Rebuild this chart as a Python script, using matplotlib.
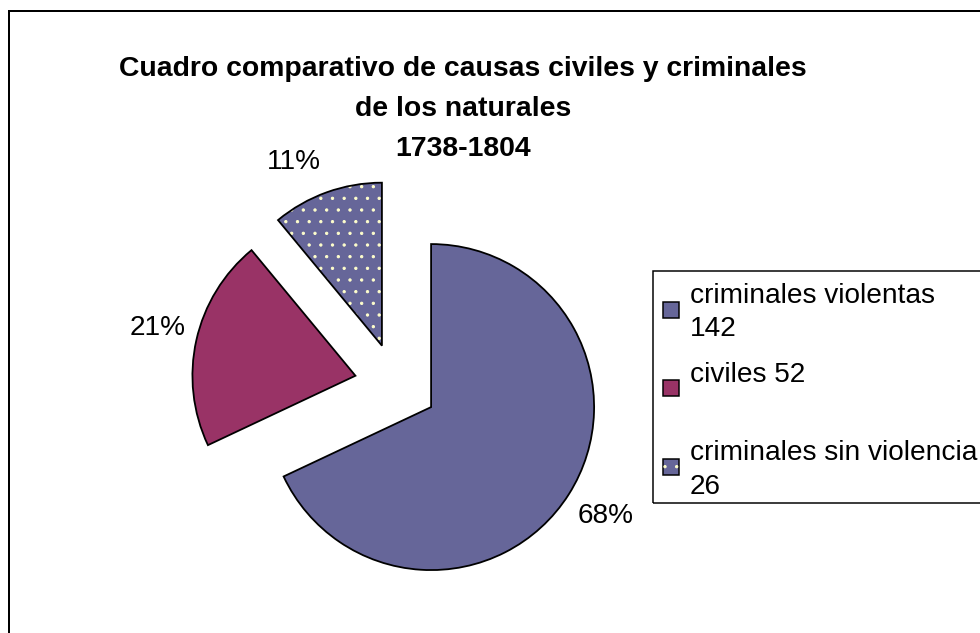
import numpy as np
import matplotlib
matplotlib.use("Agg")
import matplotlib.pyplot as plt
from matplotlib.patches import Rectangle

# ---- data ----
categories = ["criminales violentas", "civiles", "criminales sin violencia"]
counts = [142, 52, 26]
shares = [68, 21, 11]          # percentages as drawn in the pie
title_lines = ["Cuadro comparativo de causas civiles y criminales",
               "de los naturales", "1738-1804"]

# ---- style ----
DPI = 70
W, H = 980, 633
def pt(px):
    return px * 72.0 / DPI
def fx(px):
    return px / W
def fy(py):
    return 1 - py / H

colors = ["#666699", "#993366", "#666699"]
hatches = [None, None, "."]
FONT = "Liberation Sans"
FS = pt(28)

fig = plt.figure(figsize=(W / DPI, H / DPI), dpi=DPI)
fig.patch.set_facecolor("white")

# pie axes: 1 data unit = 163 px, centre at (396, 384.8) px
R = 163.0
cx, cy = 396.0, 384.8
lim = 1.6
size = 2 * lim * R
ax = fig.add_axes([fx(cx - size / 2), fy(cy + size / 2), size / W, size / H])

explode = [0.255] * len(shares)
wedges, _ = ax.pie(shares, colors=colors, startangle=90, counterclock=False,
                   explode=explode, radius=1,
                   wedgeprops=dict(linewidth=0))
for w, h in zip(wedges, hatches):
    if h:
        w.set_hatch(h)
        w.set_edgecolor("#FFFFCC")
        w.set_linewidth(0)
outl, _ = ax.pie(shares, startangle=90, counterclock=False, explode=explode,
                 radius=1,
                 wedgeprops=dict(fill=False, edgecolor="black", linewidth=pt(1.8)))
ax.set_xlim(-lim, lim)
ax.set_ylim(-lim, lim)
ax.set_axis_off()

# percentage labels
label_dist = [1.264, 1.249, 1.25]
label_shift = [0.5, -1.0, 5.8]
total = sum(shares)
for w, v, d, s in zip(wedges, shares, label_dist, label_shift):
    th = np.deg2rad((w.theta1 + w.theta2) / 2 + s)
    x0, y0 = w.center
    ax.text(x0 + d * np.cos(th), y0 + d * np.sin(th), f"{v / total * 100:.0f}%",
            ha="center", va="center", fontsize=FS, family=FONT)

# title
title_base = [76, 116, 156]
for line, yb in zip(title_lines, title_base):
    fig.text(fx(463), fy(yb), line, ha="center", va="baseline",
             fontsize=pt(28.4), fontweight="bold", family=FONT)

# outer frame (only left/top visible)
fig.add_artist(Rectangle((fx(9), -0.2), 1.5, fy(11) + 0.2, transform=fig.transFigure,
                         fill=False, edgecolor="black", linewidth=pt(2)))

# legend box
fig.add_artist(Rectangle((fx(653), fy(503)), 1.0, (503 - 271) / H,
                         transform=fig.transFigure, fill=False,
                         edgecolor="black", linewidth=pt(1.5)))
leg_lines = [[f"{categories[0]}", f"{counts[0]}"],
             [f"{categories[1]} {counts[1]}"],
             [f"{categories[2]}", f"{counts[2]}"]]
row_base = [303, 381.7, 460]
line_step = 33.5
sq = 16
for i, (lines, yb) in enumerate(zip(leg_lines, row_base)):
    y0 = fy(yb - 1.5) - sq / H
    fig.add_artist(Rectangle((fx(663), y0), sq / W, sq / H,
                             transform=fig.transFigure, facecolor=colors[i],
                             edgecolor="black", linewidth=pt(1.5)))
    if hatches[i]:
        fig.add_artist(Rectangle((fx(663), y0), sq / W, sq / H,
                                 transform=fig.transFigure, facecolor="none",
                                 edgecolor="#FFFFCC", linewidth=0, hatch=hatches[i]))
    for j, t in enumerate(lines):
        fig.text(fx(690), fy(yb + j * line_step), t, ha="left", va="baseline",
                 fontsize=FS, family=FONT)

fig.savefig("out.png", dpi=DPI, facecolor="white")
